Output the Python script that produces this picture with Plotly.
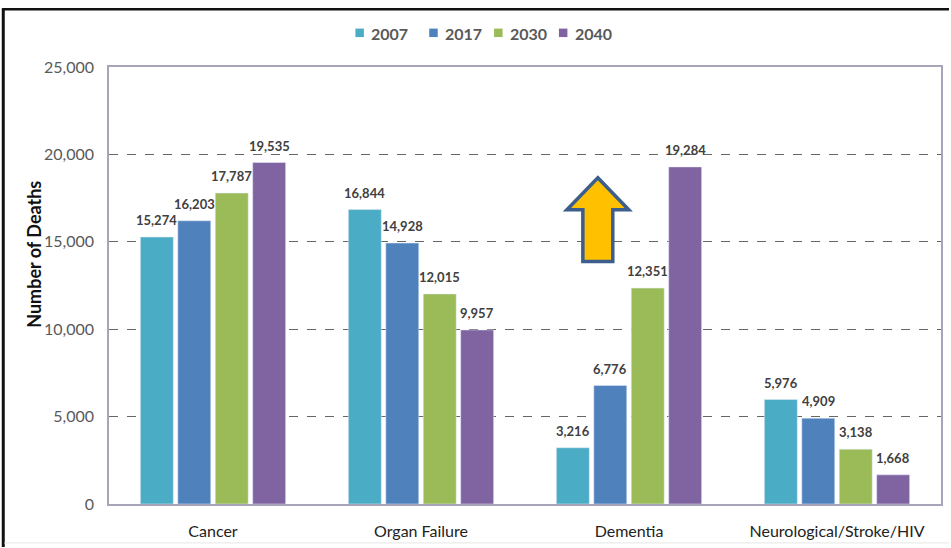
import plotly.graph_objects as go

categories = ["Cancer", "Organ Failure", "Dementia", "Neurological/Stroke/HIV"]
years = ["2007", "2017", "2030", "2040"]
deaths_2007 = [15274, 16844, 3216, 5976]
deaths_2017 = [16203, 14928, 6776, 4909]
deaths_2030 = [17787, 12015, 12351, 3138]
deaths_2040 = [19535, 9957, 19284, 1668]
series = [deaths_2007, deaths_2017, deaths_2030, deaths_2040]
colors = ["#4BACC6", "#4F81BD", "#9BBB59", "#8064A2"]

W, H = 951, 548
L, R, T, B = 109, 943, 67, 505
FONT = "Lato, Open Sans, sans-serif"
BARGAP = 0.28

def px(x):
    return (x - L) / (R - L)

def py(y):
    return (B - y) / (B - T)

fig = go.Figure()
for name, vals, col in zip(years, series, colors):
    fig.add_trace(go.Bar(x=categories, y=vals, name=name, marker_color=col, showlegend=False))

# value labels above each bar, offset to the bar's slot within its group
slot = (R - L) / len(categories) * (1 - BARGAP) / len(years)
annotations = []
for i, vals in enumerate(series):
    for cat, v in zip(categories, vals):
        annotations.append(dict(
            x=cat, y=v, xref="x", yref="y", text=f"{v:,}", showarrow=False,
            xshift=(i - 1.5) * slot, yanchor="bottom", yshift=7,
            font=dict(size=13, color="#404040", family=FONT, weight="bold"),
        ))

# axis title, set slightly above the plot's middle
annotations.append(dict(
    x=px(33), y=py(255), xref="paper", yref="paper", text="Number of Deaths",
    showarrow=False, textangle=-90, xanchor="center", yanchor="middle",
    font=dict(size=18, color="#111111", family=FONT, weight="bold"),
))

shapes = []

# compact legend row across the top
legend_x = [356, 430, 495, 560]
for name, col, lx in zip(years, colors, legend_x):
    shapes.append(dict(type="rect", xref="paper", yref="paper",
                       x0=px(lx), x1=px(lx + 8.5), y0=py(37), y1=py(28.5),
                       fillcolor=col, line=dict(width=0)))
    annotations.append(dict(
        x=px(lx + 14), y=py(33), xref="paper", yref="paper", text=name,
        showarrow=False, xanchor="left", yanchor="middle",
        font=dict(size=16, color="#595959", family=FONT, weight="bold"),
    ))

# upward arrow between the Dementia bars
arrow = [(599, 178), (630, 210), (614, 210), (614, 262), (584, 262), (584, 210), (568, 210)]
path = "M " + " L ".join(f"{px(x):.5f},{py(y):.5f}" for x, y in arrow) + " Z"

shapes += [
    dict(type="path", path=path, xref="paper", yref="paper",
         fillcolor="#FFC000", line=dict(color="#3B5E8C", width=3.5)),
    # outer frame lines
    dict(type="line", xref="paper", yref="paper", x0=px(2), x1=px(951), y0=py(9), y1=py(9),
         line=dict(color="#111111", width=2.5)),
    dict(type="line", xref="paper", yref="paper", x0=px(3), x1=px(3), y0=py(8), y1=py(548),
         line=dict(color="#111111", width=3)),
    dict(type="line", xref="paper", yref="paper", x0=px(4), x1=px(951), y0=py(544), y1=py(544),
         line=dict(color="#E6E6E6", width=1)),
]

fig.update_layout(
    width=W, height=H,
    margin=dict(l=L, r=W - R, t=T, b=H - B),
    paper_bgcolor="white", plot_bgcolor="white",
    barmode="group", bargap=BARGAP, bargroupgap=0.12,
    font=dict(family=FONT, color="#404040"),
    showlegend=False,
    annotations=annotations,
    shapes=shapes,
    yaxis=dict(range=[0, 25000], dtick=5000, tickformat=",d",
               showgrid=True, gridcolor="#666666", griddash="dash", gridwidth=1,
               showline=True, linecolor="#A6A6B8", mirror=True, linewidth=1.5,
               zeroline=False, ticks="", ticklabelstandoff=10,
               tickfont=dict(size=16, color="#595959")),
    xaxis=dict(showline=True, linecolor="#A6A6B8", mirror=True, linewidth=1.5,
               ticks="", ticklabelstandoff=12, tickfont=dict(size=16, color="#222222")),
)

fig.write_html("out.html")
